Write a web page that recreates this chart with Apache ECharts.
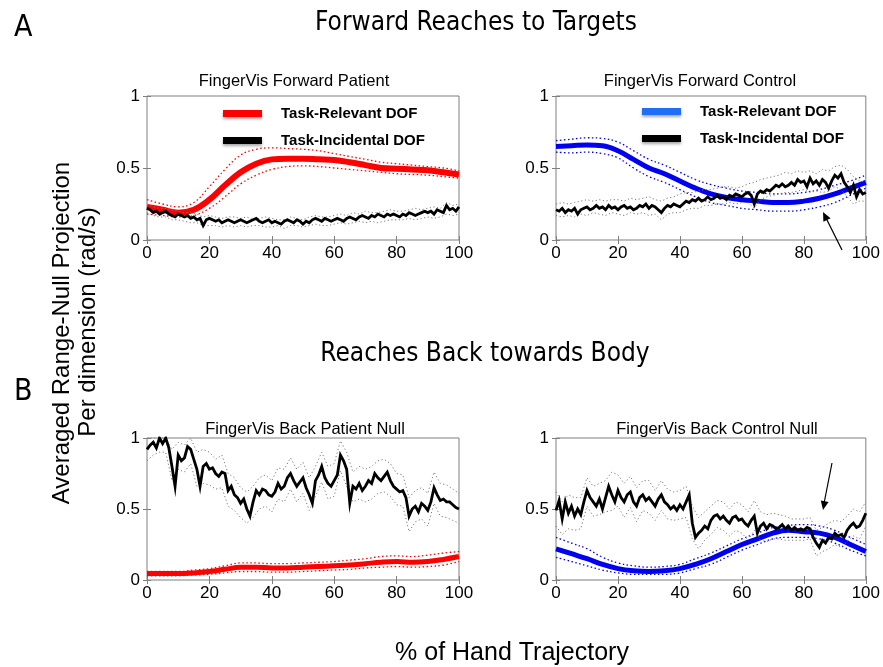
<!DOCTYPE html>
<html>
<head>
<meta charset="utf-8">
<script src="https://cdn.jsdelivr.net/npm/echarts@6/dist/echarts.min.js"></script>
<style>html,body{margin:0;padding:0;background:#fff}#c{width:883px;height:667px}</style>
</head>
<body>
<div id="c"></div>
<script>
// ---------- sample positions (% of hand trajectory) ----------
const X5 = [0,5,10,15,20,25,30,35,40,45,50,55,60,65,70,75,80,85,90,95,100];
const X2 = Array.from({length:51},(_,i)=>i*2);
const X1 = Array.from({length:101},(_,i)=>i);
const xTicks = [0,20,40,60,80,100];
const yTicks = [0,0.5,1];

// ---------- Panel 1: FingerVis Forward Patient ----------
const p1RelMean  = [.23,.21,.19,.21,.28,.38,.47,.53,.56,.565,.565,.56,.555,.54,.52,.50,.495,.49,.485,.47,.455];
const p1RelUpper = [.28,.25,.23,.26,.37,.49,.59,.63,.64,.635,.63,.62,.60,.58,.56,.54,.53,.52,.51,.50,.48];
const p1RelLower = [.18,.17,.16,.17,.22,.30,.39,.45,.49,.51,.515,.51,.50,.49,.48,.47,.46,.455,.45,.44,.43];
const p1IncMean = [.22,.21,.19,.20,.18,.19,.20,.18,.17,.16,
  .18,.17,.16,.17,.15,.16,.14,.15,.10,.14,
  .15,.14,.13,.14,.12,.13,.14,.13,.12,.13,
  .14,.13,.12,.13,.14,.15,.13,.12,.13,.14,
  .12,.13,.12,.11,.13,.14,.13,.12,.14,.13,
  .11,.13,.12,.14,.15,.14,.13,.15,.14,.13,
  .14,.15,.14,.13,.15,.16,.15,.14,.16,.17,
  .16,.15,.17,.16,.18,.17,.16,.18,.17,.18,
  .17,.16,.18,.17,.19,.18,.17,.18,.19,.20,
  .19,.20,.18,.21,.20,.19,.24,.21,.22,.20,.23];
const p1IncUpper = [.25,.23,.22,.22,.21,.20,.19,.19,.18,.16,.17,.16,.15,.16,.16,.15,.16,.14,.15,.16,.15,.14,.14,.16,.15,.14,.16,.17,.16,.16,.17,.18,.17,.19,.18,.20,.19,.19,.20,.21,.20,.20,.21,.22,.21,.22,.23,.22,.26,.24,.25];
const p1IncLower = [.19,.17,.16,.16,.14,.14,.13,.12,.12,.10,.10,.10,.09,.10,.09,.10,.09,.10,.10,.09,.09,.10,.08,.10,.10,.09,.10,.11,.10,.10,.11,.12,.11,.12,.13,.12,.13,.12,.13,.14,.14,.14,.15,.14,.15,.16,.15,.16,.18,.17,.18];

// ---------- Panel 2: FingerVis Forward Control ----------
const p2RelMean  = [.65,.655,.66,.655,.62,.56,.50,.46,.41,.36,.32,.295,.28,.27,.26,.26,.27,.29,.32,.36,.40];
const p2RelUpper = [.69,.70,.71,.705,.68,.62,.56,.52,.47,.42,.385,.36,.34,.33,.32,.32,.33,.35,.38,.41,.45];
const p2RelLower = [.61,.605,.61,.60,.57,.50,.44,.40,.35,.30,.26,.24,.22,.21,.20,.20,.21,.23,.26,.31,.36];
const p2IncMean = [.21,.20,.22,.19,.21,.20,.22,.18,.21,.22,
  .23,.21,.22,.24,.22,.23,.21,.24,.22,.23,
  .21,.23,.24,.22,.23,.21,.22,.24,.23,.25,
  .22,.24,.23,.21,.19,.22,.24,.23,.25,.24,
  .23,.25,.27,.26,.28,.27,.29,.27,.28,.30,
  .28,.29,.31,.29,.30,.28,.31,.30,.32,.31,
  .30,.32,.33,.31,.25,.32,.34,.33,.35,.34,
  .36,.38,.37,.39,.37,.38,.40,.38,.42,.40,
  .41,.37,.43,.39,.41,.38,.42,.40,.36,.41,
  .45,.43,.46,.40,.37,.33,.38,.30,.35,.32,.33];
const p2IncUpper = [.25,.26,.25,.26,.27,.28,.27,.28,.27,.28,.28,.27,.29,.28,.29,.30,.28,.27,.29,.30,.32,.33,.33,.34,.35,.35,.36,.37,.37,.36,.37,.39,.40,.42,.43,.44,.45,.47,.46,.48,.47,.48,.46,.49,.48,.51,.52,.49,.44,.41,.40];
const p2IncLower = [.17,.16,.17,.16,.18,.17,.19,.18,.17,.19,.18,.17,.19,.18,.19,.17,.18,.14,.18,.19,.19,.21,.22,.22,.24,.24,.25,.25,.26,.25,.26,.26,.22,.28,.30,.31,.32,.33,.33,.34,.35,.33,.34,.33,.34,.37,.35,.30,.25,.27,.27];

// ---------- Panel 3: FingerVis Back Patient Null ----------
const p3RelMean  = [.045,.045,.045,.05,.06,.075,.09,.09,.085,.085,.09,.095,.10,.105,.115,.125,.13,.125,.13,.145,.165];
const p3RelUpper = [.06,.06,.06,.07,.08,.10,.12,.12,.115,.115,.12,.125,.13,.14,.15,.165,.17,.165,.175,.19,.20];
const p3RelLower = [.03,.03,.03,.035,.04,.05,.06,.06,.055,.055,.06,.065,.07,.075,.085,.09,.095,.09,.095,.105,.13];
const p3IncMean = [.92,.95,.97,.93,1.0,.96,1.0,.93,.80,.66,
  .88,.84,.86,.94,.92,.85,.78,.66,.80,.82,
  .78,.79,.75,.73,.76,.75,.63,.66,.60,.58,
  .54,.57,.50,.45,.55,.63,.60,.64,.63,.60,
  .59,.62,.68,.64,.66,.72,.75,.70,.66,.69,
  .72,.65,.60,.54,.70,.74,.80,.72,.68,.66,
  .70,.74,.88,.84,.78,.54,.66,.64,.68,.63,
  .66,.70,.68,.75,.72,.70,.73,.76,.70,.66,
  .64,.62,.63,.58,.45,.50,.52,.48,.54,.52,
  .49,.55,.65,.60,.56,.57,.55,.55,.53,.51,.50];
const p3IncUpper = [1.0,1.0,1.0,1.0,.92,.97,.95,1.0,.90,.92,.90,.85,.88,.75,.72,.65,.62,.66,.72,.74,.70,.79,.78,.86,.78,.83,.72,.80,.90,.80,.82,.98,.90,.76,.80,.78,.80,.84,.85,.82,.75,.74,.58,.63,.65,.61,.76,.68,.67,.64,.61];
const p3IncLower = [.84,.88,.90,.90,.70,.78,.76,.82,.66,.68,.67,.64,.65,.52,.49,.44,.40,.44,.50,.52,.48,.57,.55,.64,.55,.61,.49,.59,.69,.57,.59,.77,.66,.55,.57,.55,.57,.61,.62,.59,.53,.52,.34,.41,.43,.38,.54,.45,.44,.42,.40];

// ---------- Panel 4: FingerVis Back Control Null ----------
const p4RelMean  = [.22,.185,.15,.11,.08,.065,.06,.065,.08,.11,.15,.20,.25,.29,.33,.35,.34,.33,.30,.25,.20];
const p4RelUpper = [.30,.26,.22,.16,.12,.10,.09,.095,.11,.15,.19,.24,.29,.33,.37,.385,.39,.38,.35,.30,.25];
const p4RelLower = [.16,.13,.10,.07,.05,.04,.04,.04,.05,.08,.11,.16,.21,.25,.29,.30,.30,.29,.26,.21,.17];
const p4IncMean = [.49,.56,.43,.55,.47,.52,.45,.50,.46,.55,
  .63,.58,.55,.52,.57,.50,.58,.66,.60,.55,
  .63,.58,.55,.60,.62,.55,.52,.58,.60,.56,
  .58,.55,.52,.57,.60,.55,.53,.50,.52,.49,
  .53,.50,.55,.60,.40,.30,.33,.35,.38,.36,
  .42,.45,.46,.43,.45,.42,.40,.44,.45,.42,
  .43,.40,.38,.42,.45,.33,.38,.40,.36,.39,
  .38,.36,.37,.39,.36,.38,.35,.37,.35,.36,
  .35,.37,.36,.30,.26,.23,.28,.26,.30,.29,
  .33,.31,.32,.30,.35,.38,.40,.37,.38,.42,.47];
const p4IncUpper = [.62,.55,.60,.58,.58,.72,.66,.68,.70,.76,.74,.68,.73,.65,.70,.70,.63,.70,.64,.62,.63,.66,.52,.44,.48,.52,.56,.55,.50,.55,.53,.48,.56,.48,.46,.47,.46,.45,.43,.43,.43,.44,.35,.37,.40,.42,.41,.45,.50,.48,.55];
const p4IncLower = [.38,.32,.36,.35,.36,.52,.45,.46,.48,.49,.52,.44,.51,.41,.49,.47,.42,.49,.43,.42,.43,.44,.29,.22,.28,.32,.37,.35,.31,.35,.33,.28,.35,.28,.27,.29,.29,.28,.28,.28,.28,.29,.17,.20,.22,.25,.23,.27,.31,.29,.38];

const panelTitles = ['FingerVis Forward Patient','FingerVis Forward Control','FingerVis Back Patient Null','FingerVis Back Control Null'];
const legendNames = ['Task-Relevant DOF','Task-Incidental DOF'];

// ---------- build ----------
const pairs = (xs, ys) => xs.map((x,i)=>[x, ys[i]]);
const RED = '#ff0000', BLUE = '#0000f0', BLACK = '#000000', GREY = '#7a7a7a';
const panels = [
  {rel:[p1RelMean,p1RelUpper,p1RelLower], inc:[p1IncMean,p1IncUpper,p1IncLower], color:RED, w:6, tag:'A1'},
  {rel:[p2RelMean,p2RelUpper,p2RelLower], inc:[p2IncMean,p2IncUpper,p2IncLower], color:BLUE, w:5, tag:'A2'},
  {rel:[p3RelMean,p3RelUpper,p3RelLower], inc:[p3IncMean,p3IncUpper,p3IncLower], color:RED, w:5, tag:'B1'},
  {rel:[p4RelMean,p4RelUpper,p4RelLower], inc:[p4IncMean,p4IncUpper,p4IncLower], color:BLUE, w:5, tag:'B2'}
];
const grids = [
  {left:147, top:96, width:312, height:144},
  {left:556, top:96, width:313, height:144},
  {left:147, top:438, width:312, height:142},
  {left:556, top:438, width:313, height:142}
];
const FONT = "'Liberation Sans', Arial, sans-serif";
const xAxes = [], yAxes = [], series = [];
grids.forEach((g,gi)=>{
  g.show = true; g.borderColor = '#7f7f7f'; g.borderWidth = 1; g.backgroundColor = '#fff';
  const axCommon = {min:0, splitLine:{show:false}, axisLine:{show:false},
    axisTick:{inside:true, length:4, lineStyle:{color:'#7f7f7f'}}};
  xAxes.push(Object.assign({}, axCommon, {type:'value', gridIndex:gi, max:100, interval:20, position:'bottom',
    axisLabel:{color:'#000', fontSize:17, fontFamily:FONT, margin:5}}));
  xAxes.push(Object.assign({}, axCommon, {type:'value', gridIndex:gi, max:100, interval:20, position:'top',
    axisLabel:{show:false}}));
  yAxes.push(Object.assign({}, axCommon, {type:'value', gridIndex:gi, max:1, interval:0.5, position:'left',
    axisLabel:{color:'#000', fontSize:17, fontFamily:FONT, margin:7, formatter:v=>String(v)}}));
  yAxes.push(Object.assign({}, axCommon, {type:'value', gridIndex:gi, max:1, interval:0.5, position:'right',
    axisLabel:{show:false}}));
  const xi = gi*2, yi = gi*2;
  const p = panels[gi];
  const suffix = gi===1 ? ' (control)' : (gi>1 ? ' ('+p.tag+')' : '');
  [1,2].forEach(k=>series.push({type:'line', xAxisIndex:xi, yAxisIndex:yi, data:pairs(X5,p.rel[k]), smooth:0.4,
    showSymbol:false, silent:true, lineStyle:{color:p.color, width:1.3, type:[1.5,2.5]}, z:2}));
  series.push({name:legendNames[0]+suffix, type:'line', xAxisIndex:xi, yAxisIndex:yi, data:pairs(X5,p.rel[0]), smooth:0.4,
    showSymbol:false, color:p.color, lineStyle:{color:p.color, width:p.w}, z:3});
  [1,2].forEach(k=>series.push({type:'line', xAxisIndex:xi, yAxisIndex:yi, data:pairs(X2,p.inc[k]),
    showSymbol:false, silent:true, lineStyle:{color:GREY, width:1, type:[1.2,2.5]}, z:4}));
  series.push({name:legendNames[1]+suffix, type:'line', xAxisIndex:xi, yAxisIndex:yi, data:pairs(X1,p.inc[0]),
    showSymbol:false, color:BLACK, lineStyle:{color:BLACK, width:2.8, join:'miter'}, z:5});
});

const legendCommon = {orient:'vertical', icon:'rect', itemWidth:39, itemHeight:7, itemGap:12,
  selectedMode:false, formatter:n=>n.replace(' (control)',''),
  textStyle:{fontSize:15, fontWeight:'bold', fontFamily:FONT, color:'#000', padding:[0,0,0,14]}};
const legends = [
  Object.assign({}, legendCommon, {left:218, top:101, data:[
    {name:legendNames[0], itemStyle:{color:RED, shadowBlur:3, shadowColor:'rgba(0,0,0,0.35)', shadowOffsetY:2}},
    {name:legendNames[1], itemStyle:{color:BLACK, shadowBlur:3, shadowColor:'rgba(0,0,0,0.35)', shadowOffsetY:2}}]}),
  Object.assign({}, legendCommon, {left:637, top:99, data:[
    {name:legendNames[0]+' (control)', itemStyle:{color:'#1f6ff5', shadowBlur:3, shadowColor:'rgba(0,0,0,0.35)', shadowOffsetY:2}},
    {name:legendNames[1]+' (control)', itemStyle:{color:BLACK, shadowBlur:3, shadowColor:'rgba(0,0,0,0.35)', shadowOffsetY:2}}]})
];

const TITLEFONT = "'DejaVu Sans Condensed', 'Liberation Sans Narrow', sans-serif";
const titles = [
  {text:'Forward Reaches to Targets', left:471, top:5, textAlign:'center', textStyle:{fontSize:26, fontWeight:'normal', fontFamily:TITLEFONT, color:'#000'}},
  {text:'Reaches Back towards Body', left:480, top:336, textAlign:'center', textStyle:{fontSize:26, fontWeight:'normal', fontFamily:TITLEFONT, color:'#000'}},
  {text:'A', left:9, top:8, textStyle:{fontSize:30, fontWeight:'normal', fontFamily:TITLEFONT, color:'#000'}},
  {text:'B', left:9, top:372, textStyle:{fontSize:30, fontWeight:'normal', fontFamily:TITLEFONT, color:'#000'}},
  {text:panelTitles[0], left:289, top:68, textAlign:'center', textStyle:{fontSize:16.5, fontWeight:'normal', fontFamily:FONT, color:'#000'}},
  {text:panelTitles[1], left:695, top:68, textAlign:'center', textStyle:{fontSize:16.5, fontWeight:'normal', fontFamily:FONT, color:'#000'}},
  {text:panelTitles[2], left:300, top:416, textAlign:'center', textStyle:{fontSize:16.5, fontWeight:'normal', fontFamily:FONT, color:'#000'}},
  {text:panelTitles[3], left:712, top:416, textAlign:'center', textStyle:{fontSize:16.5, fontWeight:'normal', fontFamily:FONT, color:'#000'}},
  {text:'% of Hand Trajectory', left:507, top:636, textAlign:'center', textStyle:{fontSize:25, fontWeight:'normal', fontFamily:FONT, color:'#000'}}
];

const graphic = [
  {type:'text', x:62, y:333, rotation:Math.PI/2, style:{text:'Averaged Range-Null Projection', fontSize:24, fontFamily:FONT, fill:'#000', align:'center', verticalAlign:'middle'}},
  {type:'text', x:88, y:322, rotation:Math.PI/2, style:{text:'Per dimension (rad/s)', fontSize:24, fontFamily:FONT, fill:'#000', align:'center', verticalAlign:'middle'}},
  // annotation arrows
  {type:'line', shape:{x1:842, y1:250, x2:825, y2:216}, style:{stroke:'#000', lineWidth:1.2}, z:10},
  {type:'polygon', shape:{points:[[823,212],[830.6,218.2],[823.4,221.8]]}, style:{fill:'#000'}, z:10},
  {type:'line', shape:{x1:832, y1:463, x2:823.5, y2:506}, style:{stroke:'#000', lineWidth:1.2}, z:10},
  {type:'polygon', shape:{points:[[823,510],[828.6,502],[820.8,500.4]]}, style:{fill:'#000'}, z:10}
];

const chart = echarts.init(document.getElementById('c'), null, {renderer:'canvas'});
chart.setOption({
  animation:false, backgroundColor:'#fff',
  title:titles, legend:legends, grid:grids, xAxis:xAxes, yAxis:yAxes, series:series, graphic:graphic
});
</script>
</body>
</html>
